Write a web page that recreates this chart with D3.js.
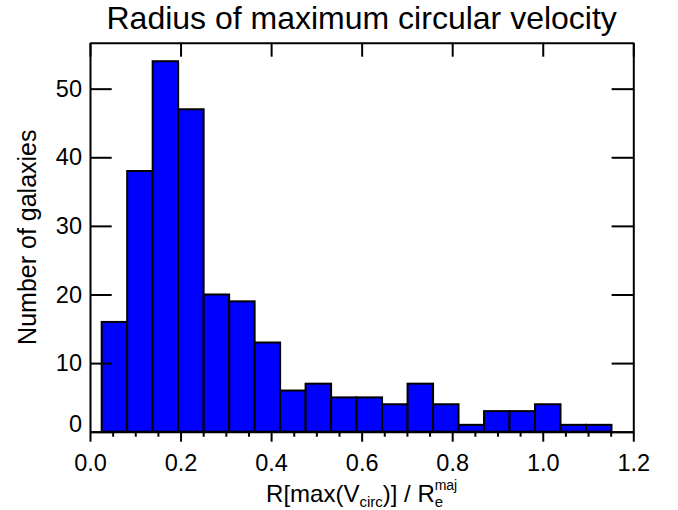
<!DOCTYPE html>
<html>
<head>
<meta charset="utf-8">
<script src="https://cdn.jsdelivr.net/npm/d3@7"></script>
<style>
  body { margin: 0; background: #fff; }
  svg { font-family: "Liberation Sans", Arial, sans-serif; }
  .axis path, .axis line { stroke: #000; stroke-width: 2; }
  .axis text { font-size: 23.5px; fill: #000; }
</style>
</head>
<body>
<svg width="678" height="510"></svg>
<script>
// histogram: left edge of first bin, bin width, counts
const binStart = 0.0258;
const binWidth = 0.0563;
const counts = [16, 38, 54, 47, 20, 19, 13, 6, 7, 5, 5, 4, 7, 4, 1, 3, 3, 4, 1, 1];
const xTicks = [0.0, 0.2, 0.4, 0.6, 0.8, 1.0, 1.2];
const yTicks = [0, 10, 20, 30, 40, 50];

let margin = { top: 42.7, right: 44.7, bottom: 78.3, left: 90 },
  width = 678 - margin.left - margin.right,
  height = 510 - margin.top - margin.bottom;

const bins = counts.map((c, i) => ({ x0: binStart + i * binWidth, x1: binStart + (i + 1) * binWidth, n: c }));

const x = d3.scaleLinear().domain([0, 1.2]).range([0, width]);
const y = d3.scaleLinear().domain([0, d3.max(counts) * 1.05]).range([height, 0]);

const svg = d3.select('svg');
const g = svg.append('g').attr('transform', `translate(${margin.left}, ${margin.top})`);

// bars
g.selectAll('.bar')
  .data(bins)
  .enter()
  .append('rect')
  .attr('class', 'bar')
  .attr('x', d => x(d.x0))
  .attr('y', d => y(d.n))
  .attr('width', d => x(d.x1) - x(d.x0))
  .attr('height', d => height - y(d.n))
  .attr('fill', '#0000ff')
  .attr('stroke', '#000')
  .attr('stroke-width', 2);

const minor = d3.range(0, 1.2001, 0.05).filter(v => Math.abs(v * 5 - Math.round(v * 5)) > 1e-6);

// minor ticks bottom
g.append('g')
  .attr('class', 'axis')
  .attr('transform', `translate(0, ${height})`)
  .call(d3.axisBottom(x).tickValues(minor).tickSize(5).tickSizeOuter(0).tickFormat(''))
  .select('.domain').remove();

// bottom axis
g.append('g')
  .attr('class', 'axis')
  .attr('transform', `translate(0, ${height})`)
  .call(d3.axisBottom(x).tickValues(xTicks).tickSize(10).tickSizeOuter(0).tickPadding(13).tickFormat(d3.format('.1f')));

// top axis
g.append('g')
  .attr('class', 'axis')
  .call(d3.axisTop(x).tickValues(xTicks).tickSize(-14).tickSizeOuter(0).tickFormat(''));

// left axis
const yLeft = g.append('g')
  .attr('class', 'axis')
  .call(d3.axisLeft(y).tickValues(yTicks).tickSize(-21.7).tickSizeOuter(0).tickPadding(8));
yLeft.selectAll('text').filter(d => d === 0).attr('dy', '0.0em');

// right axis
g.append('g')
  .attr('class', 'axis')
  .attr('transform', `translate(${width}, 0)`)
  .call(d3.axisRight(y).tickValues(yTicks).tickSize(-21.7).tickSizeOuter(0).tickFormat(''));

// title
svg.append('text')
  .attr('x', margin.left + width / 2)
  .attr('y', 29)
  .attr('text-anchor', 'middle')
  .attr('font-size', 32)
  .text('Radius of maximum circular velocity');

// y label
svg.append('text')
  .attr('transform', `translate(36, ${margin.top + height / 2}) rotate(-90)`)
  .attr('text-anchor', 'middle')
  .attr('font-size', 25)
  .text('Number of galaxies');

// x label with sub/superscripts
const xl = svg.append('text')
  .attr('x', margin.left + width / 2)
  .attr('y', 502)
  .attr('text-anchor', 'middle')
  .attr('font-size', 24);
xl.append('tspan').text('R[max(V');
xl.append('tspan').attr('font-size', 15).attr('dy', 5).text('circ');
xl.append('tspan').attr('dy', -5).text(')] / R');
xl.append('tspan').attr('font-size', 15).attr('dy', 5).text('e');
xl.append('tspan').attr('font-size', 14).attr('dx', -8.5).attr('dy', -17).text('maj');
</script>
</body>
</html>
